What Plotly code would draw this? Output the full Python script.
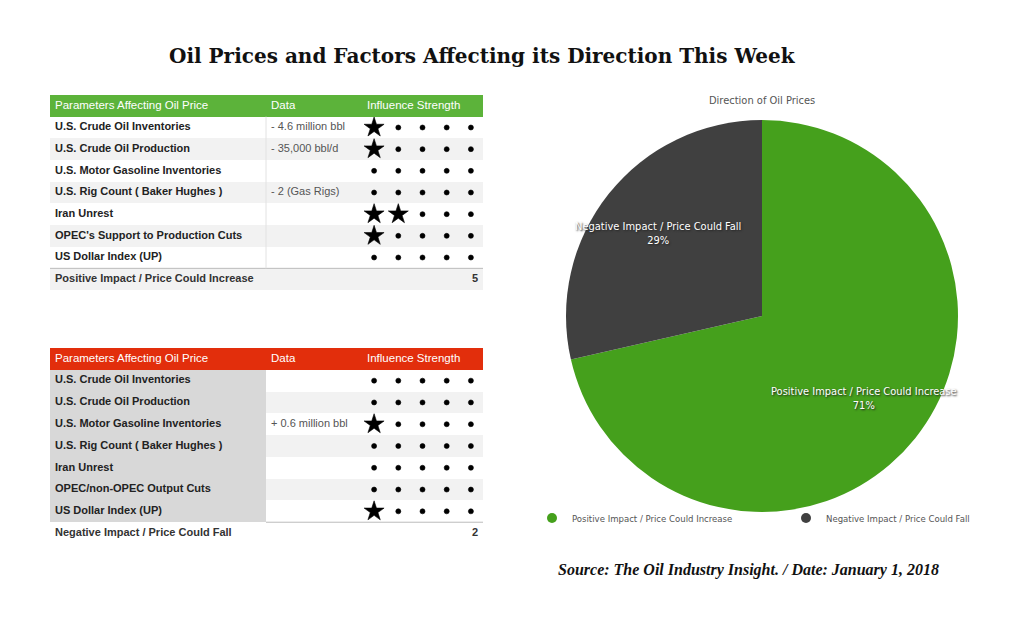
import plotly.graph_objects as go

# Page offset: the browser body has an 8px margin, so the figure is drawn 8px in.
OFF = 8
W, H = 1024 - 2 * OFF, 617 - 2 * OFF

# ---------------- data ----------------
title_text = "Oil Prices and Factors Affecting its Direction This Week"
header_labels = ["Parameters Affecting Oil Price", "Data", "Influence Strength"]

top_params = ["U.S. Crude Oil Inventories", "U.S. Crude Oil Production",
              "U.S. Motor Gasoline Inventories", "U.S. Rig Count ( Baker Hughes )",
              "Iran Unrest", "OPEC's Support to Production Cuts", "US Dollar Index (UP)"]
top_data = ["- 4.6 million bbl", "- 35,000 bbl/d", "", "- 2 (Gas Rigs)", "", "", ""]
top_strength = [1, 1, 0, 0, 2, 1, 0]
top_footer = "Positive Impact / Price Could Increase"

bot_params = ["U.S. Crude Oil Inventories", "U.S. Crude Oil Production",
              "U.S. Motor Gasoline Inventories", "U.S. Rig Count ( Baker Hughes )",
              "Iran Unrest", "OPEC/non-OPEC Output Cuts", "US Dollar Index (UP)"]
bot_data = ["", "", "+ 0.6 million bbl", "", "", "", ""]
bot_strength = [0, 0, 1, 0, 0, 0, 1]
bot_footer = "Negative Impact / Price Could Fall"

max_strength = 5
pie_labels = ["Positive Impact / Price Could Increase", "Negative Impact / Price Could Fall"]
pie_values = [sum(top_strength), sum(bot_strength)]
pie_colors = ["#45A01C", "#404040"]
pie_title = "Direction of Oil Prices"
source_text = "Source: The Oil Industry Insight. / Date: January 1, 2018"

# ---------------- layout constants ----------------
col_widths = [216, 96, 121]
col_starts = [0, 216, 312]
table_w = sum(col_widths)
PAD = 5


def px(x):
    return (x - OFF) / W


def py(y):
    return 1 - (y - OFF) / H


SANS = "Liberation Sans, Arial, sans-serif"
COND = "DejaVu Sans Condensed, Roboto, sans-serif"
GRAY = "#F2F2F2"

fig = go.Figure()


def add_table(params, data, strength, footer, header_color, xa, ya, first_col_fill,
              footer_fill, sep_from):
    n = len(params)
    rows = list(range(n + 2))
    alt = ["white" if i % 2 == 0 else GRAY for i in range(n)]
    fills = [
        [header_color] + ((alt if first_col_fill is None else [first_col_fill] * n)) + [footer_fill],
        [header_color] + alt + [footer_fill],
        [header_color] + alt + [footer_fill],
    ]
    for c in range(3):
        fig.add_trace(go.Bar(y=rows, x=[col_widths[c]] * len(rows), base=[col_starts[c]] * len(rows),
                             orientation="h", width=1, xaxis=xa, yaxis=ya,
                             marker=dict(color=fills[c], line=dict(width=0)),
                             showlegend=False, hoverinfo="skip"))
    # separator lines
    fig.add_trace(go.Scatter(x=[sep_from, table_w], y=[n + 0.5, n + 0.5], mode="lines",
                             line=dict(color="#BBBBBB", width=1), xaxis=xa, yaxis=ya,
                             showlegend=False, hoverinfo="skip"))
    if first_col_fill is None:
        fig.add_trace(go.Scatter(x=[col_starts[1], col_starts[1]], y=[0.5, n + 0.5], mode="lines",
                                 line=dict(color="#E2E2E2", width=1), xaxis=xa, yaxis=ya,
                                 showlegend=False, hoverinfo="skip"))
    # header text
    fig.add_trace(go.Scatter(x=[s + PAD for s in col_starts], y=[0, 0, 0], text=header_labels,
                             mode="text", textposition="middle right", xaxis=xa, yaxis=ya,
                             textfont=dict(family=SANS, size=11.5, color="white"),
                             showlegend=False, hoverinfo="skip"))
    # parameter names
    fig.add_trace(go.Scatter(x=[PAD] * n, y=rows[1:n + 1], text=["<b>%s</b>" % p for p in params],
                             mode="text", textposition="middle right", xaxis=xa, yaxis=ya,
                             textfont=dict(family=SANS, size=11, color="#222222"),
                             showlegend=False, hoverinfo="skip"))
    # data column
    fig.add_trace(go.Scatter(x=[col_starts[1] + PAD] * n, y=rows[1:n + 1], text=data,
                             mode="text", textposition="middle right", xaxis=xa, yaxis=ya,
                             textfont=dict(family=SANS, size=11, color="#555555"),
                             showlegend=False, hoverinfo="skip"))
    # footer
    fig.add_trace(go.Scatter(x=[PAD], y=[n + 1], text=["<b>%s</b>" % footer],
                             mode="text", textposition="middle right", xaxis=xa, yaxis=ya,
                             textfont=dict(family=SANS, size=11, color="#333333"),
                             showlegend=False, hoverinfo="skip"))
    fig.add_trace(go.Scatter(x=[table_w - PAD], y=[n + 1], text=["<b>%d</b>" % sum(strength)],
                             mode="text", textposition="middle left", xaxis=xa, yaxis=ya,
                             textfont=dict(family=SANS, size=11, color="#333333"),
                             showlegend=False, hoverinfo="skip"))
    # influence marks
    slot = col_widths[2] / max_strength
    xs, ys, syms, sizes = [], [], [], []
    for i, s in enumerate(strength):
        for k in range(1, max_strength + 1):
            xs.append(col_starts[2] + slot * (k - 0.5))
            ys.append(i + 1)
            star = k <= s
            syms.append("star" if star else "circle")
            sizes.append(15 if star else 5)
    fig.add_trace(go.Scatter(x=xs, y=ys, mode="markers", xaxis=xa, yaxis=ya,
                             marker=dict(symbol=syms, size=sizes, color="#000000", opacity=1,
                                         line=dict(width=0.6, color="#000000")),
                             showlegend=False, hoverinfo="skip"))


add_table(top_params, top_data, top_strength, top_footer, "#5CB33A", "x", "y", None, GRAY, 0)
add_table(bot_params, bot_data, bot_strength, bot_footer, "#E22E0C", "x2", "y2", "#D8D8D8",
          "white", col_starts[1])

# pie
tot = sum(pie_values)
fig.add_trace(go.Pie(labels=pie_labels, values=pie_values, sort=False, direction="clockwise",
                     rotation=0, textinfo="none", showlegend=False, hoverinfo="label+percent",
                     marker=dict(colors=pie_colors, line=dict(width=0)),
                     domain=dict(x=[px(566), px(958)], y=[py(512), py(120)])))

# legend entries with round markers
for lab, col in zip(pie_labels, pie_colors):
    fig.add_trace(go.Scatter(x=[None], y=[None], mode="markers", name=lab,
                             marker=dict(symbol="circle", size=10, color=col),
                             xaxis="x", yaxis="y", showlegend=True))

annotations = [
    dict(text="<b>%s</b>" % title_text, x=px(482), y=py(56), xref="paper", yref="paper",
         showarrow=False, xanchor="center", yanchor="middle",
         font=dict(family="DejaVu Serif, serif", size=20, color="#111111")),
    dict(text=pie_title, x=px(762), y=py(101), xref="paper", yref="paper",
         showarrow=False, xanchor="center", yanchor="middle",
         font=dict(family=COND, size=11, color="#555555")),
    dict(text="<b><i>%s</i></b>" % source_text, x=px(748), y=py(570), xref="paper", yref="paper",
         showarrow=False, xanchor="center", yanchor="middle",
         font=dict(family="Liberation Serif, Times New Roman, serif", size=16, color="#111111")),
]
label_pos = [(864, 398), (658, 233)]
for lab, v, (lx, ly) in zip(pie_labels, pie_values, label_pos):
    annotations.append(dict(text="%s<br>%d%%" % (lab, round(100 * v / tot)),
                            x=px(lx), y=py(ly), xref="paper", yref="paper",
                            showarrow=False, xanchor="center", yanchor="middle",
                            font=dict(family=COND, size=11, color="white",
                                      shadow="1px 1px 2px #222"),
                            align="center"))

axis_common = dict(visible=False, fixedrange=True, showgrid=False, zeroline=False)
fig.update_layout(
    width=W, height=H, margin=dict(l=0, r=0, t=0, b=0, autoexpand=False),
    paper_bgcolor="white", plot_bgcolor="rgba(0,0,0,0)",
    template="none", barmode="overlay", bargap=0,
    xaxis=dict(domain=[px(50), px(483)], range=[0, table_w], anchor="y", **axis_common),
    yaxis=dict(domain=[py(290), py(95)], range=[8.5, -0.5], anchor="x", **axis_common),
    xaxis2=dict(domain=[px(50), px(483)], range=[0, table_w], anchor="y2", **axis_common),
    yaxis2=dict(domain=[py(544), py(348)], range=[8.5, -0.5], anchor="x2", **axis_common),
    legend=dict(orientation="h", x=px(532), y=py(518), xanchor="left", yanchor="middle",
                font=dict(family=COND, size=9.5, color="#555555"),
                entrywidth=209, entrywidthmode="pixels", bgcolor="rgba(0,0,0,0)"),
    annotations=annotations,
)

fig.write_html("out.html")
